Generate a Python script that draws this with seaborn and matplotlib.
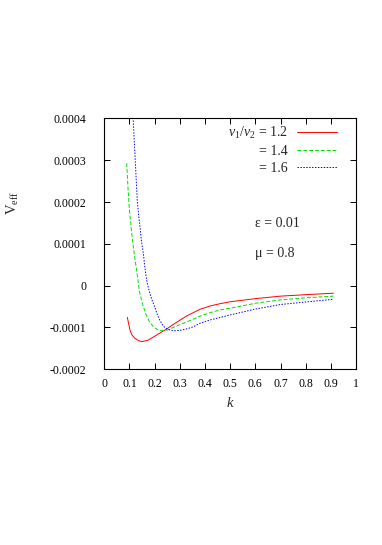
import numpy as np
import pandas as pd
import matplotlib
matplotlib.use('Agg')
import matplotlib.pyplot as plt
import seaborn as sns

# values, V_eff in units of 1e-4
k_red = [0.0915, 0.102, 0.11, 0.122, 0.135, 0.149, 0.175, 0.208, 0.241, 0.281,
         0.327, 0.38, 0.42, 0.46, 0.5, 0.6, 0.7, 0.8, 0.91]
v_red = [-0.757, -1.06, -1.18, -1.26, -1.31, -1.34, -1.30, -1.18, -1.06, -0.90,
         -0.725, -0.565, -0.486, -0.43, -0.385, -0.31, -0.25, -0.215, -0.18]

k_green = [0.089, 0.095, 0.1, 0.105, 0.11, 0.115, 0.12, 0.13, 0.14, 0.15, 0.165,
           0.18, 0.195, 0.21, 0.225, 0.25, 0.29, 0.33, 0.38, 0.42, 0.46, 0.5,
           0.6, 0.7, 0.8, 0.91]
v_green = [2.93, 2.25, 1.80, 1.50, 1.20, 0.95, 0.72, 0.30, -0.15, -0.40, -0.68,
           -0.87, -0.98, -1.05, -1.08, -1.06, -0.96, -0.86, -0.73, -0.645, -0.58,
           -0.54, -0.42, -0.34, -0.29, -0.25]

k_blue = [0.112, 0.115, 0.12, 0.125, 0.131, 0.137, 0.142, 0.148, 0.155, 0.16,
          0.168, 0.175, 0.182, 0.19, 0.2, 0.21, 0.22, 0.235, 0.25, 0.275, 0.3,
          0.33, 0.355, 0.38, 0.42, 0.5, 0.6, 0.7, 0.8, 0.91]
v_blue = [4.3, 3.95, 3.35, 2.75, 2.05, 1.65, 1.4, 1.05, 0.775, 0.5,
          0.14, -0.05, -0.2, -0.35, -0.5, -0.68, -0.82, -0.97, -1.04, -1.08, -1.07,
          -1.03, -0.98, -0.90, -0.82, -0.70, -0.56, -0.45, -0.39, -0.326]

series = ['$v_1/v_2$ = 1.2', '= 1.4', '= 1.6']
colors = ['#ff0000', '#00dd00', '#0000ff']
styles = ['-', (0, (4, 2)), (0, (1.5, 1.5))]

x_ticks = [0, 0.1, 0.2, 0.3, 0.4, 0.5, 0.6, 0.7, 0.8, 0.9, 1]
x_tick_labels = ['0', '0.1', '0.2', '0.3', '0.4', '0.5', '0.6', '0.7', '0.8', '0.9', '1']
y_ticks = [-0.0002, -0.0001, 0, 0.0001, 0.0002, 0.0003, 0.0004]
y_tick_labels = ['-0.0002', '-0.0001', '0', '0.0001', '0.0002', '0.0003', '0.0004']

sns.set_style('ticks')
plt.rcParams['font.family'] = ['Liberation Serif', 'DejaVu Serif']
plt.rcParams['mathtext.fontset'] = 'custom'
plt.rcParams['mathtext.rm'] = 'Liberation Serif'
plt.rcParams['mathtext.it'] = 'Liberation Serif:italic'

frames = []
for name, ks, vs in zip(series, [k_red, k_green, k_blue], [v_red, v_green, v_blue]):
    frames.append(pd.DataFrame({'k': ks, 'V': np.array(vs) * 1e-4, 'ratio': name}))
df = pd.concat(frames, ignore_index=True)

fig = plt.figure(figsize=(3.82, 5.45), dpi=100)
ax = fig.add_axes([0.273, 0.3224, 0.659, 0.4602])

for name, c, ls in zip(series, colors, styles):
    sub = df[df['ratio'] == name]
    sns.lineplot(data=sub, x='k', y='V', ax=ax, color=c, linewidth=0.7,
                 linestyle=ls, sort=False, estimator=None)

ax.set_xlim(0, 1)
ax.set_ylim(-0.0002, 0.0004)
ax.set_xticks(x_ticks)
ax.set_xticklabels(x_tick_labels)
ax.set_yticks(y_ticks)
ax.set_yticklabels(y_tick_labels)
ax.tick_params(direction='in', length=4, width=0.7, top=True, right=True,
               labelsize=8.5, colors='black')
ax.tick_params(axis='x', pad=6)
ax.tick_params(axis='y', pad=13)
for sp in ax.spines.values():
    sp.set_linewidth(0.8)
    sp.set_color('black')

ax.set_xlabel('$k$', fontsize=10.5)
ax.set_ylabel(r'V$_{\mathrm{eff}}$', fontsize=10.5)
ax.xaxis.set_label_coords(0.5, -0.105)
ax.yaxis.set_label_coords(-0.33, 0.663)

lines = ax.get_lines()[:3]
ax.legend(lines, series, loc='upper right', bbox_to_anchor=(0.926, 0.975),
          markerfirst=False, frameon=False, handlelength=2.9, handletextpad=0.68,
          labelspacing=0.3, borderpad=0, borderaxespad=0, fontsize=10)

ax.text(0.599, 1.476e-4, '\u03b5 = 0.01', fontsize=10, va='center', ha='left')
ax.text(0.599, 0.78e-4, '\u03bc = 0.8', fontsize=10, va='center', ha='left')

fig.savefig('out.png', dpi=100)
